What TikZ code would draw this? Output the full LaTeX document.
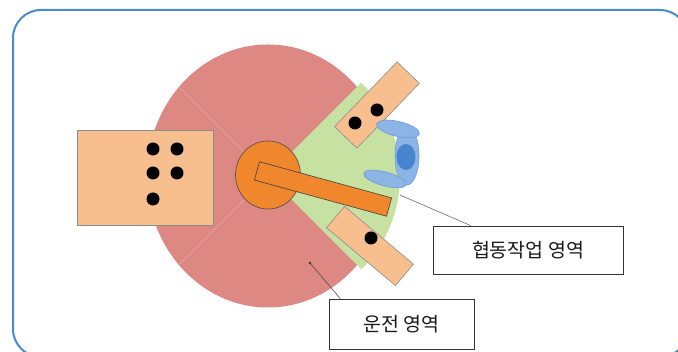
\documentclass[tikz,border=0pt]{standalone}
\usepackage{fontspec}
\setmainfont{Noto Sans CJK KR}
\usetikzlibrary{calc,shapes.geometric}

\definecolor{zonered}{RGB}{221,136,130}
\definecolor{zonegreen}{RGB}{198,225,162}
\definecolor{partpeach}{RGB}{247,190,142}
\definecolor{armorange}{RGB}{240,135,45}
\definecolor{bodyblue}{RGB}{140,180,228}
\definecolor{headblue}{RGB}{70,132,205}
\definecolor{framblue}{RGB}{74,139,201}

\begin{document}
\begin{tikzpicture}[x=1pt,y=1pt,
		table/.style={draw=black!45, fill=partpeach, line width=.6pt, inner sep=0pt},
		hole/.style={circle, fill=black, inner sep=0pt, minimum size=13pt},
		limb/.style={ellipse, draw=headblue!80, fill=bodyblue, line width=.6pt, inner sep=0pt},
		tag/.style={draw=black!80, fill=white, line width=.7pt, inner sep=0pt, font=\fontsize{19.5}{22}\selectfont, text=black!90}]
		\useasboundingbox (0,0) rectangle (678,352);
		\clip (0,0) rectangle (678,352);
		\draw[framblue, line width=2pt, rounded corners=28pt] (13,-5) rectangle (688,342);

		% working area of the robot
		\fill[zonered] (268,176) ellipse [x radius=121, y radius=131.5];
		\fill[zonegreen] (268,176) -- ++(45:132) arc[start angle=45, end angle=-45, radius=132] -- cycle;
		\draw[white, opacity=.25, line width=.7pt] ($(268,176)+(135:34)$) -- ($(268,176)+(135:125)$)
			($(268,176)+(225:34)$) -- ($(268,176)+(225:125)$);

		% feeder table on the left
		\node[table, minimum width=136pt, minimum height=95pt] (feeder) at (145,174.5) {};
		\foreach \x/\y [count=\i] in {153/203, 177/203, 153/179, 177/179, 153/153}
			\node[hole] (f\i) at (\x,\y) {};

		% side tables
		\node[table, minimum width=90pt, minimum height=31pt, rotate=46] (upper) at (377,247) {};
		\node[hole] (u1) at (377,242) {};
		\node[hole] (u2) at (355,229) {};
		\node[table, minimum width=90pt, minimum height=28pt, rotate=-40] (lower) at (370,106) {};
		\node[hole] (l1) at (371,114) {};

		% robot base and arm
		\node[ellipse, draw=black!70, fill=armorange, line width=.6pt, minimum width=65pt, minimum height=68pt, inner sep=0pt] (base) at (268,177) {};
		\node[draw=black!75, fill=armorange, line width=.6pt, minimum width=137pt, minimum height=19pt, inner sep=0pt, rotate=-15.3] (arm) at (323,163) {};

		% operator seen from above
		\node[limb, minimum width=24pt, minimum height=58pt] (torso) at (407,196) {};
		\node[limb, minimum width=44pt, minimum height=15pt, rotate=-13] (rarm) at (398,223) {};
		\node[limb, minimum width=44pt, minimum height=14pt, rotate=-15] (larm) at (385,173) {};
		\node[ellipse, fill=headblue, inner sep=0pt, minimum width=19pt, minimum height=26pt] (head) at (406,195) {};

		% labels
		\node[tag, minimum width=190pt, minimum height=48pt] (coop) at (528,102) {협동작업 영역};
		\node[tag, minimum width=145pt, minimum height=50pt] (drive) at (401.5,28) {운전 영역};

		\coordinate (coopdot) at (400,157);
		\fill[black!80] (310,89) circle (1.3pt) coordinate (drivedot);
		\draw[black!30!blue!20!gray, line width=.6pt] (coopdot) -- ($(coop.north west)!.2!(coop.north east)$);
		\draw[black!70, line width=.6pt] (drivedot) -- ($(drive.north west)!.08!(drive.north east)$);
	\end{tikzpicture}
\end{document}
